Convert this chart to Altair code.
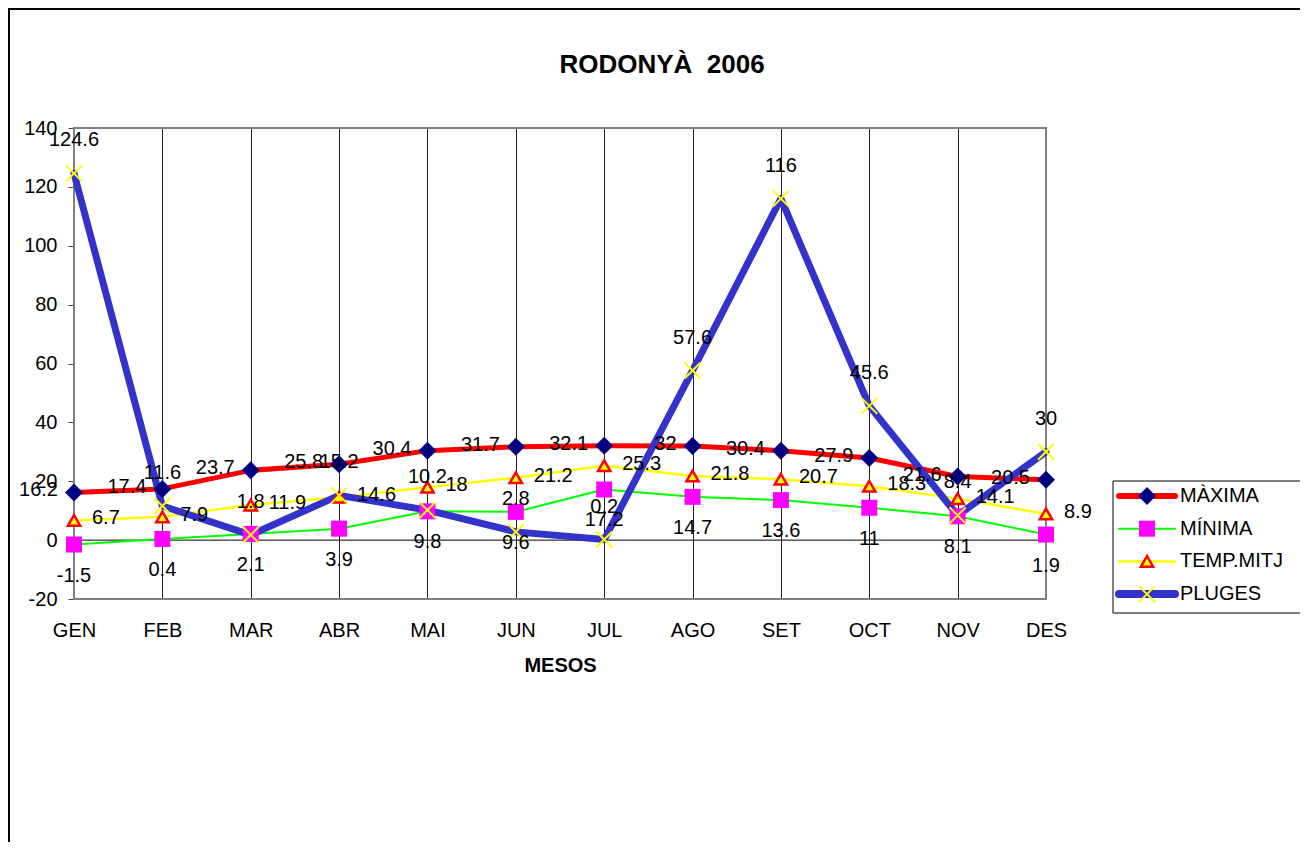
import altair as alt
import pandas as pd

# ---------------- data ----------------
mesos = ["GEN", "FEB", "MAR", "ABR", "MAI", "JUN", "JUL", "AGO", "SET", "OCT", "NOV", "DES"]
maxima = [16.2, 17.4, 23.7, 25.8, 30.4, 31.7, 32.1, 32, 30.4, 27.9, 21.6, 20.5]
minima = [-1.5, 0.4, 2.1, 3.9, 9.8, 9.6, 17.2, 14.7, 13.6, 11, 8.1, 1.9]
temp_mitj = [6.7, 7.9, 11.9, 14.6, 18, 21.2, 25.3, 21.8, 20.7, 18.3, 14.1, 8.9]
pluges = [124.6, 11.6, 1.8, 15.2, 10.2, 2.8, 0.2, 57.6, 116, 45.6, 8.4, 30]
series_names = ["MÀXIMA", "MÍNIMA", "TEMP.MITJ", "PLUGES"]
y_ticks = [-20, 0, 20, 40, 60, 80, 100, 120, 140]
title_text = "RODONYÀ  2006"
x_title = "MESOS"

FONT = "Liberation Sans"
W, H = 972, 471
PAD = {"left": 66, "top": 120, "right": 254, "bottom": 243}

df = pd.DataFrame({"mes": mesos, "maxima": maxima, "minima": minima,
                   "temp": temp_mitj, "pluges": pluges})

xscale = alt.Scale(type="point", padding=0, domain=mesos)
yscale = alt.Scale(domain=[y_ticks[0], y_ticks[-1]], nice=False, zero=False)

x_axis = alt.Axis(
    title=x_title, titleFont=FONT, titleFontSize=20, titleFontWeight="bold",
    titleColor="black", titlePadding=15,
    labelFont=FONT, labelFontSize=20, labelColor="black", labelPadding=21,
    labelAngle=0, ticks=False, tickSize=0, domain=False,
    grid=True, gridColor="#222222", gridWidth=1,
)
y_axis = alt.Axis(
    values=y_ticks, title=None, grid=False, domain=False,
    ticks=True, tickSize=6, tickColor="#404040", tickWidth=1,
    labelFont=FONT, labelFontSize=20, labelColor="black", labelPadding=11,
    labelExpr="'' + datum.value",
)


def X():
    return alt.X("mes:N", sort=mesos, scale=xscale, axis=x_axis)


def Y(col):
    return alt.Y(f"{col}:Q", scale=yscale, axis=y_axis)


# series styles: (column, line color, line width, marker kwargs, label kwargs)
styles = [
    ("maxima", "#FF0000", 5,
     dict(shape="diamond", filled=True, fill="#000080", size=324, strokeWidth=0),
     dict(align="right", baseline="middle", dx=-16, dy=-2)),
    ("minima", "#00FF00", 2,
     dict(shape="square", filled=True, fill="#FF00FF", size=256, strokeWidth=0),
     dict(align="center", baseline="middle", dy=31)),
    ("temp", "#FFFF00", 2.5,
     dict(shape="triangle-up", filled=True, fill="#FFFF00", stroke="#FF0000",
          strokeWidth=2.5, size=150),
     dict(align="left", baseline="middle", dx=18, dy=-2)),
    ("pluges", "#3333CC", 7,
     dict(shape="M-1,-1L1,1M-1,1L1,-1", filled=False, stroke="#FFFF00",
          strokeWidth=2, size=256),
     dict(align="center", baseline="middle", dy=-33)),
]

base = alt.Chart(df)
one = pd.DataFrame({"k": [0]})

layers = []
# plot frame (gray) drawn over the grid
layers.append(
    alt.Chart(one).mark_rect(fillOpacity=0, stroke="#808080", strokeWidth=2)
    .encode(x=alt.value(0), x2=alt.value(W), y=alt.value(0), y2=alt.value(H))
)
# zero line
layers.append(
    alt.Chart(pd.DataFrame({"z": [0]})).mark_rule(color="black", strokeWidth=1)
    .encode(y=Y("z"))
)

lines, points, labels = [], [], []
for col, lc, lw, mk, lb in styles:
    lines.append(base.mark_line(color=lc, strokeWidth=lw, strokeJoin="round",
                                strokeCap="round").encode(x=X(), y=Y(col)))
    points.append(base.mark_point(opacity=1, **mk).encode(x=X(), y=Y(col)))
    labels.append(base.transform_calculate(lbl=f"'' + datum.{col}")
                  .mark_text(font=FONT, fontSize=20, color="black", **lb)
                  .encode(x=X(), y=Y(col), text="lbl:N"))

layers += lines + points + labels

# ---------------- legend ----------------
layers.append(
    alt.Chart(one).mark_rect(fill="white", stroke="black", strokeWidth=1)
    .encode(x=alt.value(1039), x2=alt.value(1227), y=alt.value(353), y2=alt.value(485))
)
for i, (name, (col, lc, lw, mk, lb)) in enumerate(zip(series_names, styles)):
    ly = 368 + 32.7 * i
    d = pd.DataFrame({"serie": [name]})
    layers.append(alt.Chart(d).mark_rule(color=lc, strokeWidth=max(lw, 2) + (1 if lw >= 5 else 0),
                                         strokeCap="round")
                  .encode(x=alt.value(1045), x2=alt.value(1101), y=alt.value(ly)))
    layers.append(alt.Chart(d).mark_point(opacity=1, **mk)
                  .encode(x=alt.value(1073), y=alt.value(ly)))
    layers.append(alt.Chart(d).mark_text(font=FONT, fontSize=20, color="black",
                                         align="left", baseline="middle")
                  .encode(x=alt.value(1106), y=alt.value(ly), text="serie:N"))

# title (second space kept visible with a no-break space)
layers.append(
    alt.Chart(pd.DataFrame({"t": [title_text.replace("  ", " \u00a0")]})).mark_text(
        font=FONT, fontSize=26, fontWeight="bold", color="black",
        align="center", baseline="alphabetic")
    .encode(x=alt.value(588), y=alt.value(-55), text="t:N")
)

# outer chart border
layers.append(
    alt.Chart(one).mark_rect(fillOpacity=0, stroke="black", strokeWidth=2)
    .encode(x=alt.value(-65), x2=alt.value(W + 300), y=alt.value(-119), y2=alt.value(H + 300))
)

chart = alt.layer(*layers).properties(
    width=W, height=H,
    autosize=alt.AutoSizeParams(type="none"),
    padding=PAD,
).configure_view(stroke=None).configure(background="white")

chart.save("out.html", embed_options={"renderer": "svg", "actions": False})
